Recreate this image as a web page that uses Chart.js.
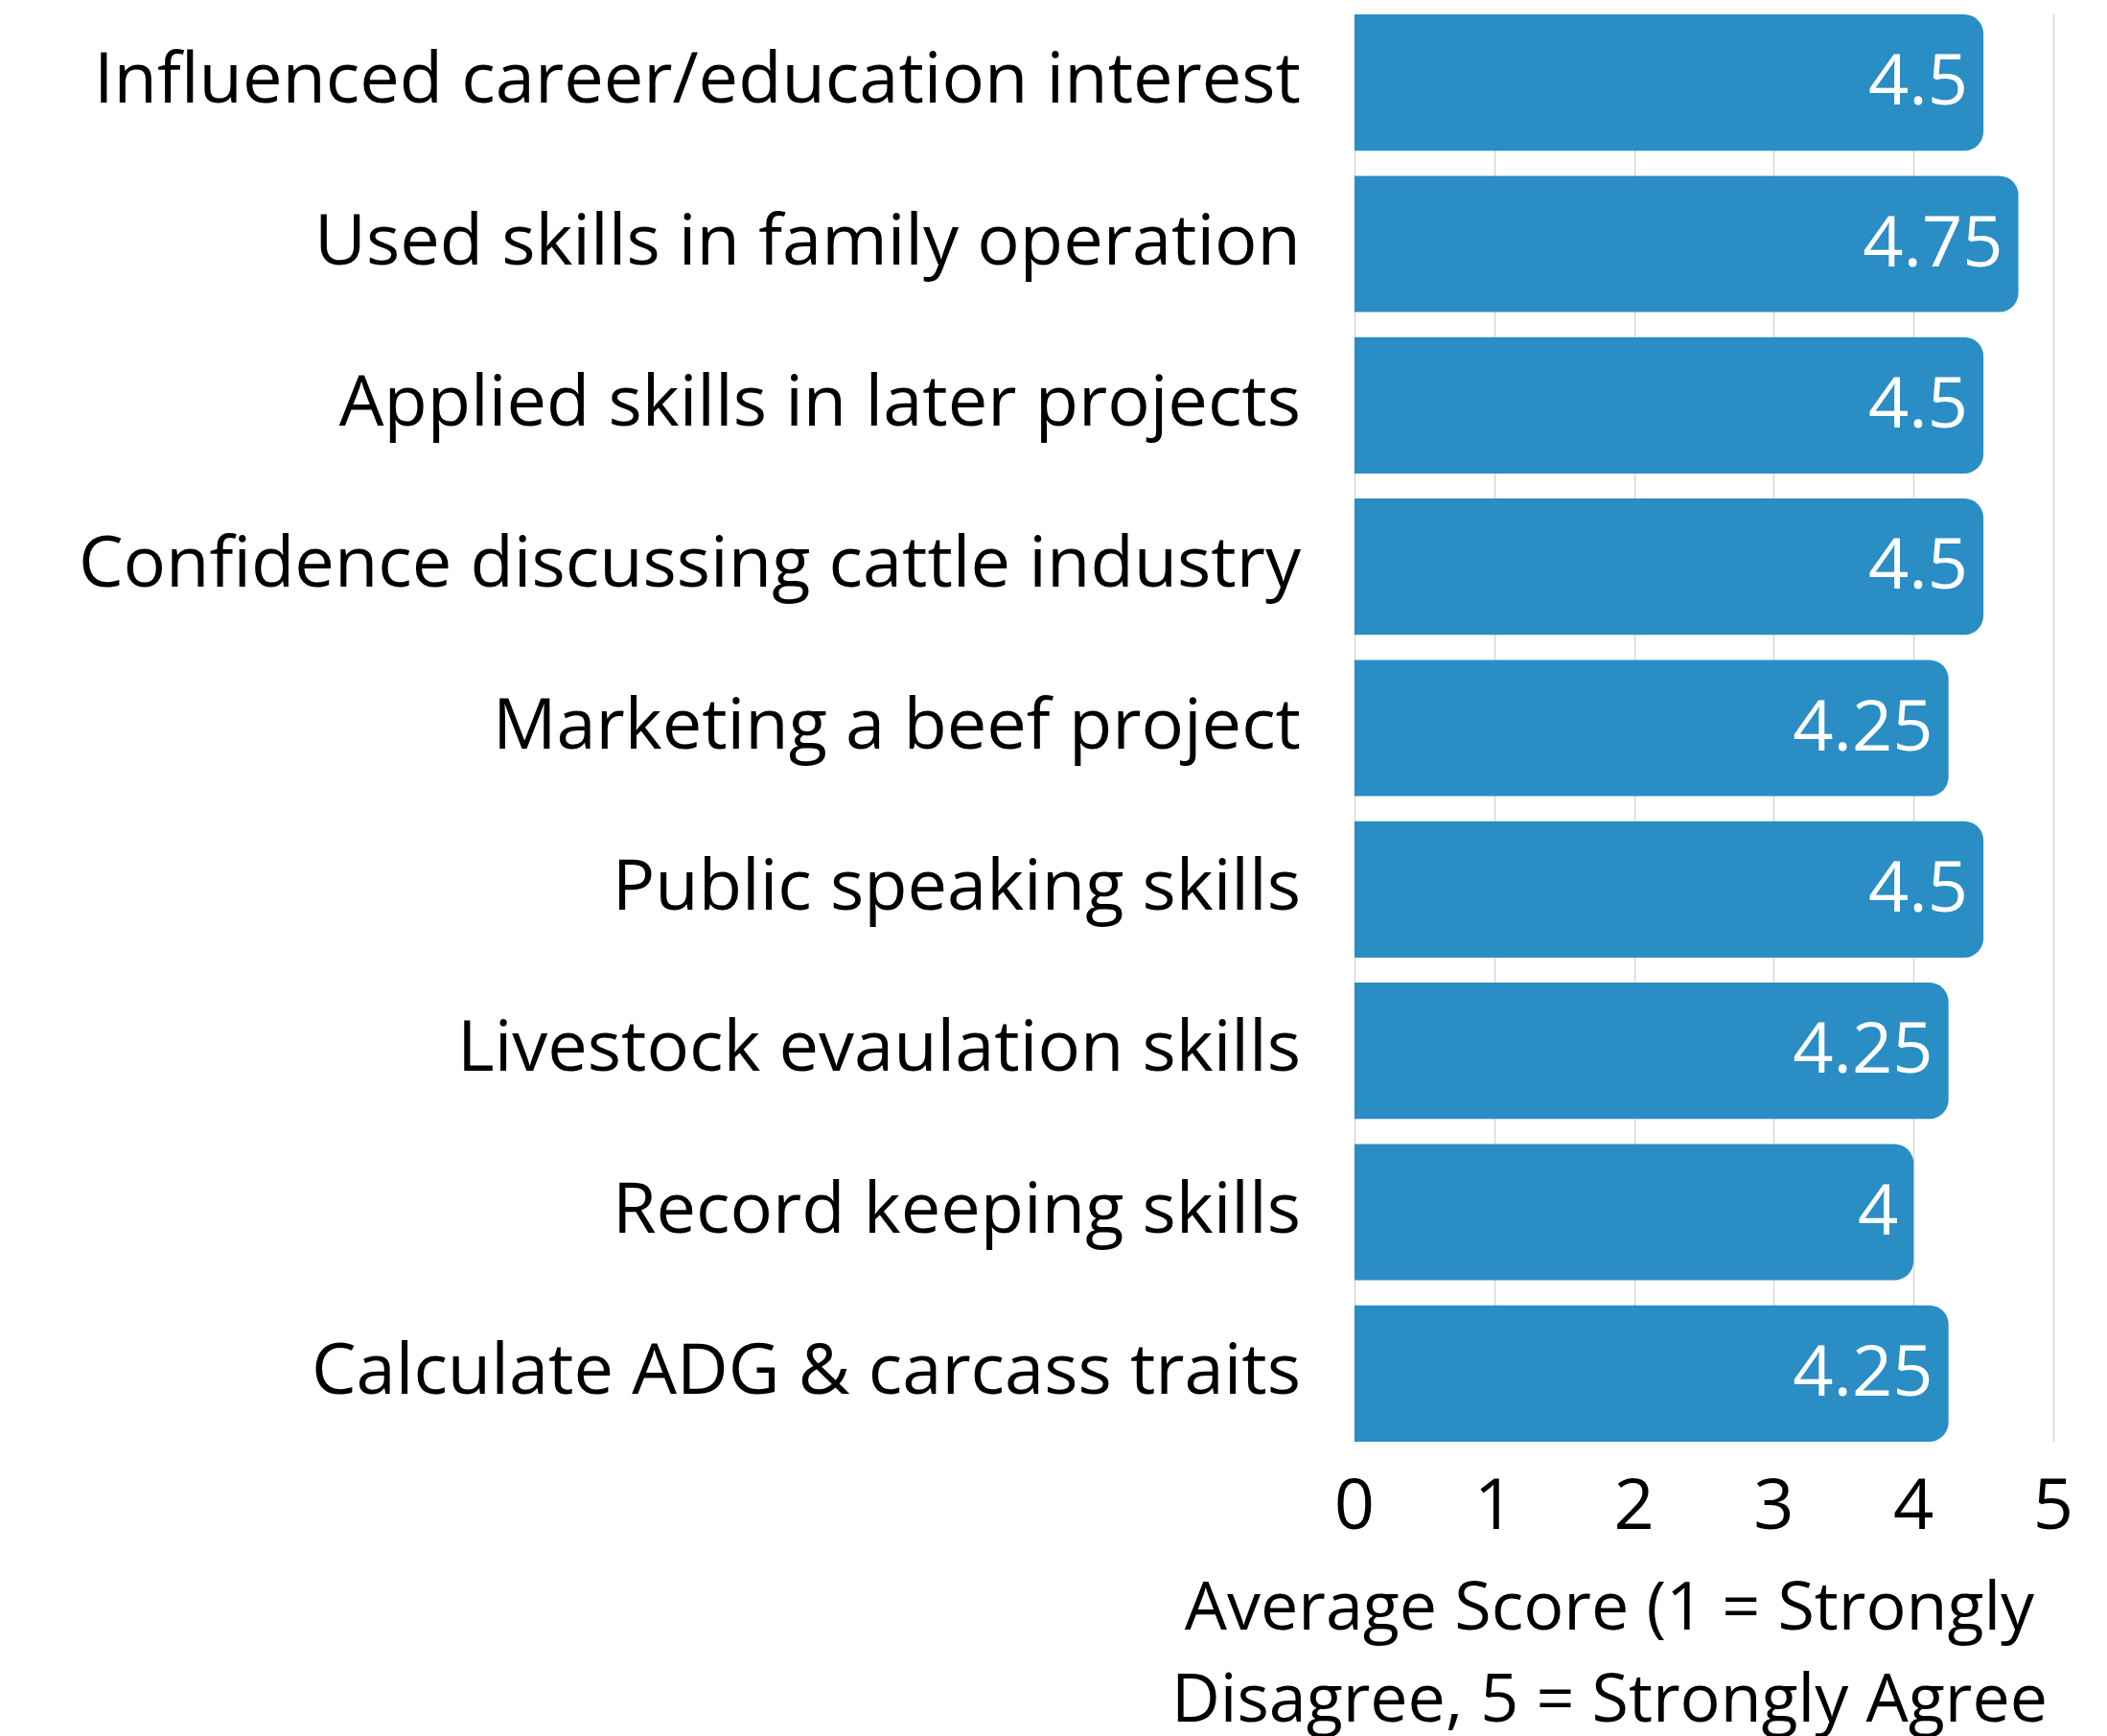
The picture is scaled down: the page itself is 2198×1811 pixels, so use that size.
<!DOCTYPE html>
<html>
<head>
<meta charset="utf-8">
<script src="https://cdn.jsdelivr.net/npm/chart.js@4/dist/chart.umd.min.js"></script>
<style>
  html, body { margin: 0; padding: 0; background: #fff; }
  #wrap { width: 2198px; height: 1811px; }
</style>
</head>
<body>
<div id="wrap"><canvas id="barChart"></canvas></div>
<script>
// categories, top to bottom
const categories = [
  "Influenced career/education interest",
  "Used skills in family operation",
  "Applied skills in later projects",
  "Confidence discussing cattle industry",
  "Marketing a beef project",
  "Public speaking skills",
  "Livestock evaulation skills",
  "Record keeping skills",
  "Calculate ADG & carcass traits",
];
const scores = [4.5, 4.75, 4.5, 4.5, 4.25, 4.5, 4.25, 4, 4.25];
const xTicks = [0, 1, 2, 3, 4, 5];
const axisTitle = ["Average Score (1 = Strongly", "Disagree, 5 = Strongly Agree"];

const FONT = "'Open Sans', 'Noto Sans', sans-serif";
const FONT_SIZE = 74;
const TITLE_SIZE = 70;
const BAR_COLOR = "#2a8dc4";

// gridlines only over the span of the bars
const gridPlugin = {
  id: "barGrid",
  beforeDatasetsDraw(chart) {
    const meta = chart.getDatasetMeta(0);
    const first = meta.data[0];
    const last = meta.data[meta.data.length - 1];
    const top = first.y - first.height / 2;
    const bottom = last.y + last.height / 2;
    const x = chart.scales.x;
    const ctx = chart.ctx;
    ctx.save();
    ctx.strokeStyle = "#d6d6d6";
    ctx.lineWidth = 1.5;
    xTicks.forEach((t) => {
      const px = Math.round(x.getPixelForValue(t)) + 0.5;
      ctx.beginPath();
      ctx.moveTo(px, top);
      ctx.lineTo(px, bottom);
      ctx.stroke();
    });
    ctx.restore();
  },
};

// value labels inside the end of each bar
const valueLabels = {
  id: "valueLabels",
  afterDatasetsDraw(chart) {
    const meta = chart.getDatasetMeta(0);
    const ctx = chart.ctx;
    ctx.save();
    ctx.fillStyle = "#ffffff";
    ctx.font = FONT_SIZE + "px " + FONT;
    ctx.textAlign = "right";
    ctx.textBaseline = "middle";
    meta.data.forEach((bar, i) => {
      ctx.fillText(String(scores[i]), bar.x - 16, bar.y + 2);
    });
    ctx.restore();
  },
};

// x axis title, two lines, wider than the plot so drawn here
const xTitle = {
  id: "xTitle",
  afterDraw(chart) {
    const x = chart.scales.x;
    const ctx = chart.ctx;
    ctx.save();
    ctx.fillStyle = "#000";
    ctx.font = TITLE_SIZE + "px " + FONT;
    ctx.textAlign = "center";
    ctx.textBaseline = "middle";
    const w = Math.max(...axisTitle.map((t) => ctx.measureText(t).width));
    const cx = x.right - 6 - w / 2;
    ctx.fillText(axisTitle[0], cx, x.bottom - 131);
    ctx.fillText(axisTitle[1], cx, x.bottom - 35);
    ctx.restore();
  },
};

new Chart(document.getElementById("barChart").getContext("2d"), {
  type: "bar",
  data: {
    labels: categories,
    datasets: [
      {
        data: scores,
        backgroundColor: BAR_COLOR,
        borderRadius: 20,
        borderSkipped: "start",
        barPercentage: 0.845,
        categoryPercentage: 1,
      },
    ],
  },
  options: {
    indexAxis: "y",
    responsive: true,
    maintainAspectRatio: false,
    animation: false,
    layout: { padding: { top: 2, right: 56, left: 0, bottom: 0 } },
    plugins: {
      legend: { display: false },
      tooltip: { enabled: false },
    },
    scales: {
      x: {
        min: 0,
        max: 5,
        ticks: {
          stepSize: 1,
          color: "#000",
          padding: 13,
          font: { family: FONT, size: FONT_SIZE },
        },
        grid: { display: false, drawTicks: false },
        border: { display: false },
        afterFit(scale) {
          scale.height = 294;
          scale.paddingLeft = 0;
          scale.paddingRight = 0;
        },
      },
      y: {
        ticks: {
          color: "#000",
          padding: 56,
          font: { family: FONT, size: FONT_SIZE },
        },
        grid: { display: false, drawTicks: false },
        border: { display: false },
        afterFit(scale) {
          scale.width = 1413;
          scale.paddingTop = 0;
          scale.paddingBottom = 0;
        },
      },
    },
  },
  plugins: [gridPlugin, valueLabels, xTitle],
});
</script>
</body>
</html>
